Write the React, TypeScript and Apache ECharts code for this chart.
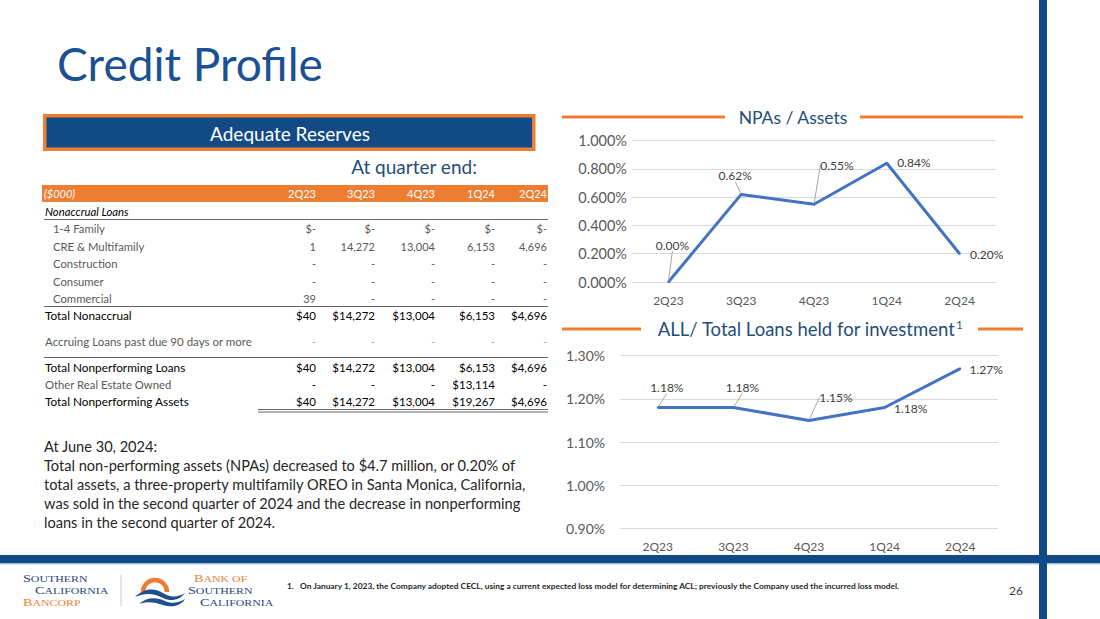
import React, { useEffect, useRef } from 'react';
import * as echarts from 'echarts';

// ---------------- Data ----------------
const quarters = ['2Q23', '3Q23', '4Q23', '1Q24', '2Q24'];
const npaToAssetsPct = [0.0, 0.62, 0.55, 0.84, 0.2];
const allToLoansPct = [1.18, 1.18, 1.15, 1.18, 1.27];

// Table ($000)
const family14 = [0, 0, 0, 0, 0];
const creMultifamily = [1, 14272, 13004, 6153, 4696];
const construction = [0, 0, 0, 0, 0];
const consumer = [0, 0, 0, 0, 0];
const commercial = [39, 0, 0, 0, 0];
const totalNonaccrual = [40, 14272, 13004, 6153, 4696];
const accruing90Days = [0, 0, 0, 0, 0];
const totalNonperformingLoans = [40, 14272, 13004, 6153, 4696];
const otherRealEstateOwned = [0, 0, 0, 13114, 0];
const totalNonperformingAssets = [40, 14272, 13004, 19267, 4696];

const paragraphLines = [
  'At June 30, 2024:',
  'Total non-performing assets (NPAs) decreased to $4.7 million, or 0.20% of',
  'total assets, a three-property multifamily OREO in Santa Monica, California,',
  'was sold in the second quarter of 2024 and the decrease in nonperforming',
  'loans in the second quarter of 2024.',
];

const footnote =
  'On January 1, 2023, the Company adopted CECL, using a current expected loss model for determining ACL; previously the Company used the incurred loss model.';

type Row = {
  label: string;
  values?: number[];
  kind: 'section' | 'item' | 'total' | 'plain' | 'oreo';
  dollar?: boolean;
  zero?: string;
};

const tableRows: Row[] = [
  { label: 'Nonaccrual Loans', kind: 'section' },
  { label: '1-4 Family', values: family14, kind: 'item', dollar: true, zero: '$-' },
  { label: 'CRE & Multifamily', values: creMultifamily, kind: 'item', zero: '-' },
  { label: 'Construction', values: construction, kind: 'item', zero: '-' },
  { label: 'Consumer', values: consumer, kind: 'item', zero: '-' },
  { label: 'Commercial', values: commercial, kind: 'item', zero: '-' },
  { label: 'Total Nonaccrual', values: totalNonaccrual, kind: 'total', dollar: true, zero: '-' },
  { label: 'Accruing Loans past due 90 days or more', values: accruing90Days, kind: 'plain', zero: '-' },
  { label: 'Total Nonperforming Loans', values: totalNonperformingLoans, kind: 'total', dollar: true, zero: '-' },
  { label: 'Other Real Estate Owned', values: otherRealEstateOwned, kind: 'oreo', dollar: true, zero: '-' },
  { label: 'Total Nonperforming Assets', values: totalNonperformingAssets, kind: 'total', dollar: true, zero: '-' },
];

// ---------------- Layout / style ----------------
const BLUE = '#124a86';
const TITLE_BLUE = '#1f4e79';
const ORANGE = '#ed7d31';
const LINE_BLUE = '#4472c4';
const FONT = 'Lato, "Open Sans", sans-serif';

const rowY = [211, 228, 246, 263, 281, 298, 315, 341, 367, 384, 401];
const colRight = [316, 375, 435, 495, 547];

const npaLabelOffset = [[4, -37], [-6, -19], [23, -39], [27, -1], [27, 1]];
const npaLeader = [true, true, true, false, false];
const allLabelOffset = [[9, -20], [9, -20], [27, -23], [26, 1], [26, 1]];
const allLeader = [true, true, true, false, false];

const fmt = (v: number, dollar?: boolean, zero?: string) =>
  v === 0 ? zero || '-' : (dollar ? '$' : '') + v.toLocaleString('en-US');

const txt = (
  text: string,
  x: number,
  y: number,
  opts: { size?: number; color?: string; align?: string; weight?: string; italic?: boolean; family?: string; vAlign?: string } = {}
) => ({
  type: 'text',
  x,
  y,
  silent: true,
  style: {
    text,
    fill: opts.color || '#262626',
    fontSize: opts.size || 12,
    fontFamily: opts.family || FONT,
    fontWeight: opts.weight || 'normal',
    fontStyle: opts.italic ? 'italic' : 'normal',
    textAlign: opts.align || 'left',
    textVerticalAlign: opts.vAlign || 'middle',
  },
});

const hline = (x1: number, x2: number, y: number, color: string, width: number) => ({
  type: 'line',
  silent: true,
  shape: { x1, y1: y, x2, y2: y },
  style: { stroke: color, lineWidth: width },
});

echarts.graphic.registerShape(
  'sbcWaves',
  echarts.graphic.extendPath(
    'M0 11 C8 3 18 1 28 7 C34 11 42 12 50 7 C45 14 36 16 28 12 C18 7 10 7 0 11 Z M4 18 C12 11 21 11 30 15 C36 18 44 17 50 13 C46 20 36 22 28 19 C20 16 12 15 4 18 Z',
    {}
  )
);

function buildGraphics() {
  const g: any[] = [];
  // frame bars
  g.push({ type: 'rect', silent: true, shape: { x: 0, y: 555, width: 1100, height: 8 }, style: { fill: BLUE } });
  g.push({ type: 'rect', silent: true, shape: { x: 0, y: 563, width: 1100, height: 1.5 }, style: { fill: '#9dc3e6' } });
  g.push({ type: 'rect', silent: true, shape: { x: 1039, y: 0, width: 8, height: 619 }, style: { fill: BLUE } });

  // title
  g.push(txt('Credit Profile', 57, 63, { size: 46, color: '#1a5192' }));

  // Adequate reserves box
  g.push({
    type: 'rect',
    silent: true,
    shape: { x: 44.75, y: 115.75, width: 489, height: 33.5 },
    style: { fill: BLUE, stroke: ORANGE, lineWidth: 3.5 },
  });
  g.push(txt('Adequate Reserves', 290, 133, { size: 19, color: '#ffffff', align: 'center' }));
  g.push(txt('At quarter end:', 414, 166, { size: 19, color: TITLE_BLUE, align: 'center' }));

  // table header
  g.push({ type: 'rect', silent: true, shape: { x: 42, y: 185, width: 506, height: 17 }, style: { fill: ORANGE } });
  g.push(txt('($000)', 44, 193.5, { size: 11, color: '#ffffff', italic: true }));
  quarters.forEach((q, i) => g.push(txt(q, colRight[i], 193.5, { size: 11, color: '#ffffff', align: 'right' })));

  tableRows.forEach((r, ri) => {
    const y = rowY[ri];
    let lx = 45;
    let lColor = '#595959';
    let vColor = '#595959';
    let lSize = 11.3;
    let vSize = 11;
    let italic = false;
    if (r.kind === 'section') {
      lColor = '#000000';
      italic = true;
    } else if (r.kind === 'item') {
      lx = 53;
    } else if (r.kind === 'total') {
      lColor = '#000000';
      vColor = '#000000';
      lSize = 11.8;
      vSize = 11.5;
    } else if (r.kind === 'plain') {
      vColor = '#a6a6a6';
      lSize = 11.5;
    } else if (r.kind === 'oreo') {
      vColor = '#000000';
      vSize = 11.5;
    }
    g.push(txt(r.label, lx, y, { size: lSize, color: lColor, italic }));
    if (r.values) {
      r.values.forEach((v, ci) =>
        g.push(txt(fmt(v, r.dollar, r.zero), colRight[ci], y, { size: vSize, color: vColor, align: 'right' }))
      );
    }
  });
  g.push(hline(44, 548, 219.5, '#404040', 0.8));
  g.push(hline(44, 548, 306.5, '#404040', 0.8));
  g.push(hline(44, 548, 357.5, '#404040', 0.8));
  g.push(hline(258, 548, 409.5, '#404040', 0.8));
  g.push(hline(258, 548, 412, '#404040', 0.8));

  // paragraph
  paragraphLines.forEach((l, i) => g.push(txt(l, 44, 446 + i * 19, { size: 14.6, color: '#262626' })));

  // chart titles
  g.push(hline(562, 725, 117, ORANGE, 3));
  g.push(hline(860, 1023, 117, ORANGE, 3));
  g.push(txt('NPAs / Assets', 793, 117, { size: 17.5, color: TITLE_BLUE, align: 'center' }));
  g.push(hline(562, 641, 329, ORANGE, 3));
  g.push(hline(978, 1023, 329, ORANGE, 3));
  g.push({
    type: 'text',
    x: 810,
    y: 329,
    silent: true,
    style: {
      text: '{m|ALL/ Total Loans held for investment}{s|1}',
      textAlign: 'center',
      textVerticalAlign: 'middle',
      rich: {
        m: { fontSize: 18.5, fontFamily: FONT, fill: TITLE_BLUE, color: TITLE_BLUE },
        s: { fontSize: 11, fontFamily: FONT, fill: TITLE_BLUE, color: TITLE_BLUE, verticalAlign: 'top', padding: [0, 0, 9, 1] },
      },
    },
  });

  // footer logo (small-caps wordmarks, stretched horizontally)
  const serif = '"Liberation Serif", "DejaVu Serif", serif';
  const sc = (text: string, x: number, y: number, color: string) => ({
    type: 'text',
    x,
    y,
    scaleX: 1.35,
    silent: true,
    style: {
      text: `{b|${text[0]}}{s|${text.slice(1)}}`,
      textVerticalAlign: 'middle',
      rich: {
        b: { fontSize: 10.5, lineHeight: 10, fontFamily: serif, fill: color, color },
        s: { fontSize: 8.8, lineHeight: 10, fontFamily: serif, fill: color, color },
      },
    },
  });
  g.push(sc('SOUTHERN', 23, 579, '#1f3f7a'));
  g.push(sc('CALIFORNIA', 35, 591, '#1f3f7a'));
  g.push(sc('BANCORP', 23, 603, ORANGE));
  g.push({ type: 'line', silent: true, shape: { x1: 121, y1: 575, x2: 121, y2: 606 }, style: { stroke: '#c8c8c8', lineWidth: 1 } });
  g.push({
    type: 'arc',
    silent: true,
    shape: { cx: 155, cy: 592, r: 12, startAngle: Math.PI, endAngle: Math.PI * 2 },
    style: { stroke: ORANGE, lineWidth: 4.5, fill: 'none' },
  });
  g.push({ type: 'sbcWaves', x: 135, y: 586, scaleX: 1, scaleY: 1, silent: true, style: { fill: '#1f4f8f' } });
  g.push(sc('BANK OF', 194, 579, ORANGE));
  g.push(sc('SOUTHERN', 188, 591, '#1f3f7a'));
  g.push(sc('CALIFORNIA', 200, 603, '#1f3f7a'));

  // footnote and page number
  g.push(txt('1.', 287, 586, { size: 8.4, color: '#262626', weight: 'bold' }));
  g.push(txt(footnote, 300, 586, { size: 8.4, color: '#262626', weight: 'bold' }));
  g.push(txt('26', 1016, 590, { size: 12, color: '#404040', align: 'center' }));
  return g;
}

const makeSeries = (
  values: number[],
  axis: number,
  offsets: number[][],
  leaders: boolean[]
) => ({
  type: 'line',
  xAxisIndex: axis,
  yAxisIndex: axis,
  data: values.map((v, i) => ({ value: v, labelLine: { show: leaders[i] } })),
  symbol: 'circle',
  symbolSize: 2,
  lineStyle: { color: LINE_BLUE, width: 3 },
  itemStyle: { color: LINE_BLUE },
  silent: true,
  label: {
    show: true,
    position: 'inside',
    formatter: (p: any) => Number(p.value).toFixed(2) + '%',
    fontSize: 12,
    fontFamily: FONT,
    color: '#404040',
  },
  labelLine: { show: false, lineStyle: { color: '#a6a6a6', width: 1 } },
  labelLayout: (p: any) => ({ dx: offsets[p.dataIndex][0], dy: offsets[p.dataIndex][1] }),
});

export default function App() {
  const ref = useRef<HTMLDivElement>(null);
  useEffect(() => {
    if (!ref.current) return;
    const chart = echarts.init(ref.current, undefined, { renderer: 'svg' });
    const axisLabelBase = { color: '#595959', fontFamily: FONT };
    chart.setOption({
      animation: false,
      backgroundColor: '#ffffff',
      grid: [
        { left: 632, right: 104, top: 140.7, bottom: 337 },
        { left: 620, right: 102, top: 355.7, bottom: 90.7 },
      ],
      xAxis: [0, 1].map((gi) => ({
        type: 'category',
        gridIndex: gi,
        data: quarters,
        axisLine: { show: false },
        axisTick: { show: false },
        axisLabel: { ...axisLabelBase, fontSize: 12, margin: 12 },
      })),
      yAxis: [
        {
          type: 'value',
          gridIndex: 0,
          min: 0,
          max: 1,
          interval: 0.2,
          axisLine: { show: false },
          axisTick: { show: false },
          axisLabel: { ...axisLabelBase, fontSize: 14.5, margin: 5, formatter: (v: number) => v.toFixed(3) + '%' },
          splitLine: { lineStyle: { color: '#d9d9d9', width: 1 } },
        },
        {
          type: 'value',
          gridIndex: 1,
          min: 0.9,
          max: 1.3,
          interval: 0.1,
          axisLine: { show: false },
          axisTick: { show: false },
          axisLabel: { ...axisLabelBase, fontSize: 14, margin: 15, formatter: (v: number) => v.toFixed(2) + '%' },
          splitLine: { lineStyle: { color: '#d9d9d9', width: 1 } },
        },
      ],
      series: [
        makeSeries(npaToAssetsPct, 0, npaLabelOffset, npaLeader),
        makeSeries(allToLoansPct, 1, allLabelOffset, allLeader),
      ],
      graphic: { elements: buildGraphics() },
    });
    return () => chart.dispose();
  }, []);
  return (
    <div
      ref={ref}
      style={{ position: 'absolute', left: 0, top: 0, width: 1100, height: 619, background: '#fff' }}
    />
  );
}
